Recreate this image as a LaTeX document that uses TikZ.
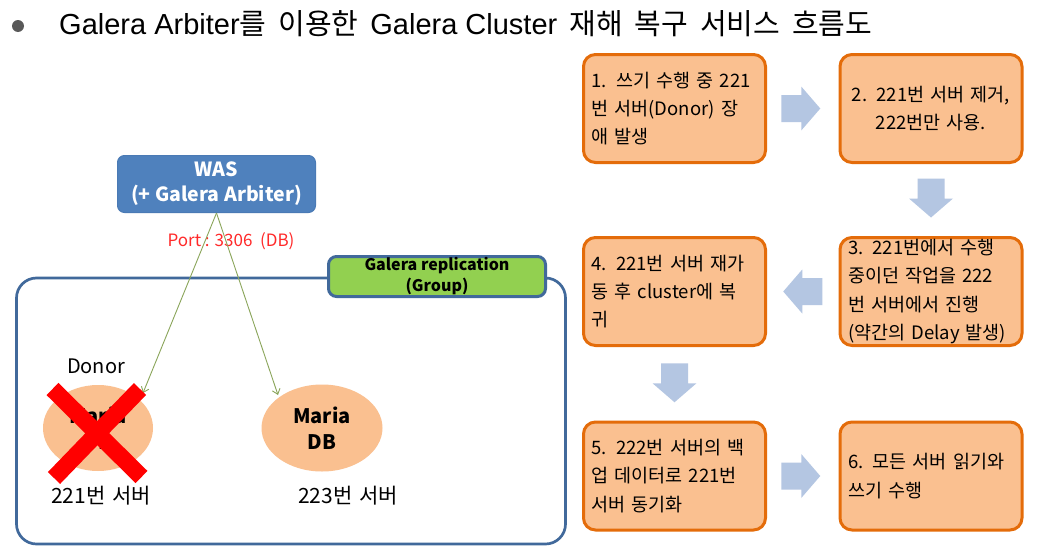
\documentclass[tikz,border=0pt]{standalone}
\usepackage{fontspec}
\setmainfont{Noto Sans CJK KR}
\newfontfamily\libfam{Liberation Sans}
\usetikzlibrary{arrows.meta,calc,shapes.geometric}
\definecolor{boxfill}{HTML}{FAC090}
\definecolor{boxdraw}{HTML}{E46C0A}
\definecolor{arrfill}{HTML}{B4C6E2}
\definecolor{wasfill}{HTML}{4F81BD}
\definecolor{wasdraw}{HTML}{4A7AB5}
\definecolor{grpdraw}{HTML}{41699B}
\definecolor{grnfill}{HTML}{92D050}
\definecolor{conn}{HTML}{8AA55A}
\definecolor{portred}{HTML}{FF2A2A}
\definecolor{bulletgray}{HTML}{595959}
\definecolor{xred}{HTML}{FF0000}
\newcommand\ttlfont{\fontsize{29}{32}\selectfont\spaceskip 12pt\relax}
\newcommand\ttllatin{\libfam\fontsize{29}{32}\selectfont\spaceskip 0pt\relax}
\newcommand\stepfont{\fontsize{18.5}{28.3}\selectfont\spaceskip 8pt plus 1pt\relax}
\newcommand\srvfont{\fontsize{21}{24}\selectfont\spaceskip 7pt\relax}
\tikzset{
  stepbox/.style={draw=boxdraw, fill=boxfill, line width=3pt, rounded corners=12pt,
    minimum width=182pt, minimum height=108pt, text width=166pt, inner xsep=8pt,
    inner ysep=0pt, align=left, font=\stepfont},
  dbell/.style={ellipse, fill=boxfill, inner sep=0pt, align=center,
    font=\bfseries\fontsize{20}{26}\selectfont},
  srvlabel/.style={inner sep=0pt, font=\srvfont},
  link/.style={draw=conn, line width=0.9pt, -{Straight Barb[length=5pt,width=8pt]}},
  blockarrow/.pic={\fill[arrfill] (-19.5,-13.5) -- (0.5,-13.5) -- (0.5,-22) -- (19.5,0)
     -- (0.5,22) -- (0.5,13.5) -- (-19.5,13.5) -- cycle;}
}
\begin{document}
\begin{tikzpicture}[x=1pt,y=-1pt]
\useasboundingbox (0,0) rectangle (1043,546);
\fill[white] (0,0) rectangle (1043,546);

% title
\node[circle, fill=bulletgray, minimum size=12pt, inner sep=0pt] (bullet) at (18,26) {};
\node[anchor=base west, inner sep=0pt, font=\ttlfont] (title) at (59,34)
  {{\ttllatin Galera Arbiter}를 이용한 {\ttllatin Galera Cluster} 재해 복구 서비스 흐름도};

% left part
\node[draw=grpdraw, line width=2.7pt, rounded corners=20pt, minimum width=549pt,
  minimum height=266pt, fill=white] (group) at (291,411) {};
\node[fill=grnfill, draw=grpdraw, line width=3pt, rounded corners=8pt, minimum width=217pt,
  minimum height=40pt, inner sep=0pt, align=center,
  font=\bfseries\fontsize{16}{21}\selectfont] (grp) at (437,276.5) {Galera replication\\(Group)};

\node[fill=wasfill, draw=wasdraw, line width=1pt, rounded corners=7pt, minimum width=198pt,
  minimum height=57pt, inner sep=0pt, text=white, align=center,
  font=\bfseries\fontsize{19.5}{25}\selectfont] (was) at (216.5,184) {WAS\\(+ Galera Arbiter)};

\node[inner sep=0pt, text=portred, font=\fontsize{17}{20}\selectfont] (port) at (231,241) {Port : 3306\ \ (DB)};

\node[dbell, minimum width=110pt, minimum height=86pt] (ellL) at (98,428) {Maria\\DB};
\node[dbell, minimum width=121pt, minimum height=87pt] (ellR) at (322,428) {Maria\\DB};

\coordinate (tipL) at ($(ellL.center)+(45,-35)$);
\coordinate (tipR) at ($(ellR.center)+(-44,-33)$);
\draw[link] (was.south) -- (tipL);
\draw[link] (was.south) -- (tipR);

\node[inner sep=0pt, font=\fontsize{20}{24}\selectfont] (donor) at (96,366) {Donor};
\draw[xred, line width=17pt] (52.5,389) -- (141.5,477) (140,389) -- (54,478);

\node[srvlabel] (srvL) at (101,496) {221번 서버};
\node[srvlabel] (srvR) at (348,496) {223번 서버};

% right part: steps
\node[stepbox] (b1) at (674.5,108.5) {1. 쓰기 수행 중 221\\번 서버(Donor) 장\\애 발생};
\node[stepbox, align=center] (b2) at (931,108.5) {2. 221번 서버 제거,\\222번만 사용.};
\node[stepbox] (b3) at (931,291.5) {3. 221번에서 수행\\중이던 작업을 222\\번 서버에서 진행\\(약간의 Delay 발생)};
\node[stepbox] (b4) at (674.5,291.5) {4. 221번 서버 재가\\동 후 cluster에 복\\귀};
\node[stepbox] (b5) at (674.5,476) {5. 222번 서버의 백\\업 데이터로 221번\\서버 동기화};
\node[stepbox] (b6) at (931,476) {6. 모든 서버 읽기와\\쓰기 수행};

\pic at ($(b1.east)!0.5!(b2.west)+(-2,0)$) {blockarrow};
\pic[rotate=-90] at ($(b2.south)!0.5!(b3.north)+(0,-2)$) {blockarrow};
\pic[rotate=180] at ($(b3.west)!0.5!(b4.east)$) {blockarrow};
\pic[rotate=-90] at ($(b4.south)!0.5!(b5.north)+(0,-1)$) {blockarrow};
\pic at ($(b5.east)!0.5!(b6.west)+(-2,0)$) {blockarrow};
\end{tikzpicture}
\end{document}
